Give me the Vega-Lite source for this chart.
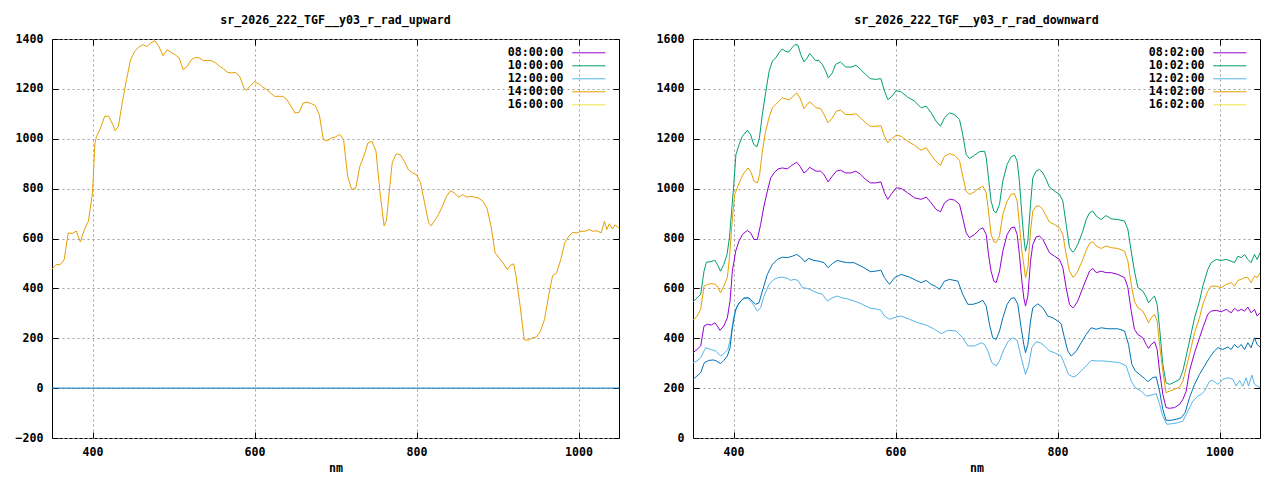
{
  "$schema": "https://vega.github.io/schema/vega-lite/v6.json",
  "background": "white",
  "padding": {"left": 4, "top": 14, "right": 0, "bottom": 0},
  "config": {
    "view": {"stroke": "#000000", "strokeWidth": 1},
    "font": "DejaVu Sans Mono",
    "axis": {
      "domain": false,
      "grid": true,
      "gridColor": "#a0a0a0",
      "gridDash": [2, 3],
      "gridWidth": 1,
      "tickColor": "#000000",
      "tickSize": -6,
      "tickWidth": 1,
      "labelPadding": 15,
      "format": "d",
      "labelFont": "DejaVu Sans Mono",
      "labelFontSize": 11.6,
      "labelFontWeight": "bold",
      "labelColor": "#000000",
      "titleFont": "DejaVu Sans Mono",
      "titleFontSize": 11.6,
      "titleFontWeight": "bold",
      "titleColor": "#000000"
    },
    "title": {
      "font": "DejaVu Sans Mono",
      "fontSize": 11.6,
      "fontWeight": "bold",
      "color": "#000000",
      "anchor": "middle",
      "baseline": "middle",
      "offset": 6
    },
    "legend": {
      "orient": "none",
      "legendX": 531,
      "legendY": 8,
      "padding": 0,
      "symbolType": "M-5,0H5",
      "symbolSize": 44,
      "symbolStrokeWidth": 1,
      "symbolOpacity": 1,
      "rowPadding": 0,
      "labelAlign": "right",
      "labelBaseline": "middle",
      "labelOffset": -31,
      "labelFont": "DejaVu Sans Mono",
      "labelFontSize": 11.6,
      "labelFontWeight": "bold",
      "labelColor": "#000000"
    }
  },
  "datasets": {
    "up": [
      {"s":"untitled","x":350,"y":0},{"s":"untitled","x":1050,"y":0},
      {"s":"14:00:00","x":350,"y":478},{"s":"14:00:00","x":355,"y":495},{"s":"14:00:00","x":360,"y":495},{"s":"14:00:00","x":365,"y":515},
      {"s":"14:00:00","x":370,"y":622},{"s":"14:00:00","x":375,"y":620},{"s":"14:00:00","x":380,"y":630},{"s":"14:00:00","x":385,"y":586},
      {"s":"14:00:00","x":390,"y":636},{"s":"14:00:00","x":395,"y":670},{"s":"14:00:00","x":400,"y":783},{"s":"14:00:00","x":403,"y":983},
      {"s":"14:00:00","x":405,"y":1010},{"s":"14:00:00","x":410,"y":1043},{"s":"14:00:00","x":415,"y":1090},{"s":"14:00:00","x":420,"y":1090},
      {"s":"14:00:00","x":425,"y":1057},{"s":"14:00:00","x":428,"y":1032},{"s":"14:00:00","x":432,"y":1050},{"s":"14:00:00","x":437,"y":1150},
      {"s":"14:00:00","x":442,"y":1237},{"s":"14:00:00","x":447,"y":1317},{"s":"14:00:00","x":452,"y":1350},{"s":"14:00:00","x":457,"y":1367},
      {"s":"14:00:00","x":462,"y":1377},{"s":"14:00:00","x":467,"y":1370},{"s":"14:00:00","x":472,"y":1384},{"s":"14:00:00","x":477,"y":1393},
      {"s":"14:00:00","x":482,"y":1370},{"s":"14:00:00","x":487,"y":1333},{"s":"14:00:00","x":492,"y":1357},{"s":"14:00:00","x":497,"y":1347},
      {"s":"14:00:00","x":502,"y":1337},{"s":"14:00:00","x":507,"y":1324},{"s":"14:00:00","x":512,"y":1277},{"s":"14:00:00","x":517,"y":1290},
      {"s":"14:00:00","x":522,"y":1317},{"s":"14:00:00","x":527,"y":1326},{"s":"14:00:00","x":532,"y":1324},{"s":"14:00:00","x":537,"y":1313},
      {"s":"14:00:00","x":542,"y":1314},{"s":"14:00:00","x":547,"y":1313},{"s":"14:00:00","x":552,"y":1304},{"s":"14:00:00","x":557,"y":1290},
      {"s":"14:00:00","x":562,"y":1280},{"s":"14:00:00","x":567,"y":1266},{"s":"14:00:00","x":572,"y":1264},{"s":"14:00:00","x":577,"y":1266},
      {"s":"14:00:00","x":582,"y":1248},{"s":"14:00:00","x":587,"y":1204},{"s":"14:00:00","x":590,"y":1194},{"s":"14:00:00","x":595,"y":1213},
      {"s":"14:00:00","x":600,"y":1228},{"s":"14:00:00","x":605,"y":1221},{"s":"14:00:00","x":610,"y":1208},{"s":"14:00:00","x":615,"y":1197},
      {"s":"14:00:00","x":620,"y":1183},{"s":"14:00:00","x":625,"y":1170},{"s":"14:00:00","x":630,"y":1170},{"s":"14:00:00","x":635,"y":1170},
      {"s":"14:00:00","x":640,"y":1157},{"s":"14:00:00","x":645,"y":1130},{"s":"14:00:00","x":650,"y":1103},{"s":"14:00:00","x":655,"y":1106},
      {"s":"14:00:00","x":660,"y":1143},{"s":"14:00:00","x":665,"y":1147},{"s":"14:00:00","x":670,"y":1141},{"s":"14:00:00","x":675,"y":1133},
      {"s":"14:00:00","x":680,"y":1097},{"s":"14:00:00","x":685,"y":996},{"s":"14:00:00","x":690,"y":992},{"s":"14:00:00","x":695,"y":1003},
      {"s":"14:00:00","x":700,"y":1007},{"s":"14:00:00","x":705,"y":1018},{"s":"14:00:00","x":710,"y":996},{"s":"14:00:00","x":715,"y":849},
      {"s":"14:00:00","x":720,"y":796},{"s":"14:00:00","x":725,"y":802},{"s":"14:00:00","x":730,"y":889},{"s":"14:00:00","x":735,"y":930},
      {"s":"14:00:00","x":740,"y":983},{"s":"14:00:00","x":745,"y":990},{"s":"14:00:00","x":750,"y":950},{"s":"14:00:00","x":755,"y":783},
      {"s":"14:00:00","x":760,"y":650},{"s":"14:00:00","x":763,"y":675},{"s":"14:00:00","x":767,"y":809},{"s":"14:00:00","x":770,"y":903},
      {"s":"14:00:00","x":775,"y":940},{"s":"14:00:00","x":780,"y":936},{"s":"14:00:00","x":785,"y":910},{"s":"14:00:00","x":790,"y":876},
      {"s":"14:00:00","x":795,"y":863},{"s":"14:00:00","x":800,"y":856},{"s":"14:00:00","x":805,"y":823},{"s":"14:00:00","x":810,"y":743},
      {"s":"14:00:00","x":815,"y":663},{"s":"14:00:00","x":818,"y":651},{"s":"14:00:00","x":822,"y":669},{"s":"14:00:00","x":827,"y":696},
      {"s":"14:00:00","x":832,"y":729},{"s":"14:00:00","x":837,"y":769},{"s":"14:00:00","x":842,"y":792},{"s":"14:00:00","x":847,"y":782},
      {"s":"14:00:00","x":852,"y":765},{"s":"14:00:00","x":857,"y":776},{"s":"14:00:00","x":862,"y":766},{"s":"14:00:00","x":867,"y":769},
      {"s":"14:00:00","x":872,"y":766},{"s":"14:00:00","x":877,"y":762},{"s":"14:00:00","x":882,"y":749},{"s":"14:00:00","x":887,"y":722},
      {"s":"14:00:00","x":892,"y":650},{"s":"14:00:00","x":897,"y":543},{"s":"14:00:00","x":902,"y":522},{"s":"14:00:00","x":907,"y":502},
      {"s":"14:00:00","x":912,"y":475},{"s":"14:00:00","x":917,"y":495},{"s":"14:00:00","x":920,"y":498},{"s":"14:00:00","x":923,"y":448},
      {"s":"14:00:00","x":928,"y":328},{"s":"14:00:00","x":933,"y":194},{"s":"14:00:00","x":938,"y":192},{"s":"14:00:00","x":943,"y":201},
      {"s":"14:00:00","x":948,"y":205},{"s":"14:00:00","x":953,"y":228},{"s":"14:00:00","x":958,"y":275},{"s":"14:00:00","x":963,"y":368},
      {"s":"14:00:00","x":968,"y":451},{"s":"14:00:00","x":973,"y":462},{"s":"14:00:00","x":978,"y":515},{"s":"14:00:00","x":983,"y":582},
      {"s":"14:00:00","x":988,"y":609},{"s":"14:00:00","x":993,"y":625},{"s":"14:00:00","x":998,"y":622},{"s":"14:00:00","x":1003,"y":629},
      {"s":"14:00:00","x":1008,"y":629},{"s":"14:00:00","x":1013,"y":636},{"s":"14:00:00","x":1018,"y":629},{"s":"14:00:00","x":1023,"y":631},
      {"s":"14:00:00","x":1028,"y":622},{"s":"14:00:00","x":1032,"y":669},{"s":"14:00:00","x":1035,"y":636},{"s":"14:00:00","x":1038,"y":659},
      {"s":"14:00:00","x":1042,"y":638},{"s":"14:00:00","x":1045,"y":655},{"s":"14:00:00","x":1050,"y":642}
    ],
    "down": [
      {"s":"08:02:00","x":350,"y":342},{"s":"08:02:00","x":355,"y":355},{"s":"08:02:00","x":359.5,"y":369},{"s":"08:02:00","x":363.6,"y":449},
      {"s":"08:02:00","x":367.7,"y":456},{"s":"08:02:00","x":372.6,"y":453},{"s":"08:02:00","x":377,"y":462},{"s":"08:02:00","x":380,"y":449},
      {"s":"08:02:00","x":383.3,"y":432},{"s":"08:02:00","x":388,"y":449},{"s":"08:02:00","x":392.4,"y":482},{"s":"08:02:00","x":395.7,"y":549},
      {"s":"08:02:00","x":398.6,"y":669},{"s":"08:02:00","x":402.7,"y":749},{"s":"08:02:00","x":406.8,"y":790},{"s":"08:02:00","x":411,"y":816},
      {"s":"08:02:00","x":417,"y":832},{"s":"08:02:00","x":421,"y":823},{"s":"08:02:00","x":425.3,"y":796},{"s":"08:02:00","x":429.4,"y":796},
      {"s":"08:02:00","x":433.5,"y":856},{"s":"08:02:00","x":437.6,"y":930},{"s":"08:02:00","x":441.8,"y":990},{"s":"08:02:00","x":445.9,"y":1043},
      {"s":"08:02:00","x":450,"y":1063},{"s":"08:02:00","x":455,"y":1079},{"s":"08:02:00","x":460.3,"y":1083},{"s":"08:02:00","x":466.5,"y":1079},
      {"s":"08:02:00","x":470.6,"y":1090},{"s":"08:02:00","x":474.7,"y":1099},{"s":"08:02:00","x":478,"y":1106},{"s":"08:02:00","x":482,"y":1090},
      {"s":"08:02:00","x":487,"y":1063},{"s":"08:02:00","x":491,"y":1073},{"s":"08:02:00","x":494,"y":1086},{"s":"08:02:00","x":498,"y":1077},
      {"s":"08:02:00","x":502,"y":1070},{"s":"08:02:00","x":507.6,"y":1070},{"s":"08:02:00","x":511.7,"y":1057},{"s":"08:02:00","x":516.7,"y":1027},
      {"s":"08:02:00","x":522,"y":1050},{"s":"08:02:00","x":527,"y":1070},{"s":"08:02:00","x":532,"y":1074},{"s":"08:02:00","x":538.5,"y":1063},
      {"s":"08:02:00","x":545,"y":1063},{"s":"08:02:00","x":551,"y":1070},{"s":"08:02:00","x":557,"y":1057},{"s":"08:02:00","x":563,"y":1037},
      {"s":"08:02:00","x":569,"y":1023},{"s":"08:02:00","x":575.5,"y":1023},{"s":"08:02:00","x":582,"y":1027},{"s":"08:02:00","x":586.4,"y":983},
      {"s":"08:02:00","x":590.5,"y":957},{"s":"08:02:00","x":594.6,"y":977},{"s":"08:02:00","x":600.8,"y":1003},{"s":"08:02:00","x":607,"y":1001},
      {"s":"08:02:00","x":615,"y":983},{"s":"08:02:00","x":623.5,"y":963},{"s":"08:02:00","x":631.7,"y":957},{"s":"08:02:00","x":637.9,"y":966},
      {"s":"08:02:00","x":644,"y":943},{"s":"08:02:00","x":650,"y":917},{"s":"08:02:00","x":655.5,"y":907},{"s":"08:02:00","x":660.5,"y":943},
      {"s":"08:02:00","x":666.7,"y":958},{"s":"08:02:00","x":672.8,"y":954},{"s":"08:02:00","x":679,"y":937},{"s":"08:02:00","x":683,"y":883},
      {"s":"08:02:00","x":687.2,"y":823},{"s":"08:02:00","x":691.3,"y":803},{"s":"08:02:00","x":697.5,"y":816},{"s":"08:02:00","x":703.7,"y":836},
      {"s":"08:02:00","x":707.8,"y":843},{"s":"08:02:00","x":712,"y":816},{"s":"08:02:00","x":714.8,"y":736},{"s":"08:02:00","x":718,"y":669},
      {"s":"08:02:00","x":721.4,"y":629},{"s":"08:02:00","x":724.3,"y":623},{"s":"08:02:00","x":728.4,"y":669},{"s":"08:02:00","x":732.5,"y":749},
      {"s":"08:02:00","x":737.8,"y":816},{"s":"08:02:00","x":742.8,"y":843},{"s":"08:02:00","x":746.9,"y":846},{"s":"08:02:00","x":750.2,"y":816},
      {"s":"08:02:00","x":753,"y":736},{"s":"08:02:00","x":756,"y":629},{"s":"08:02:00","x":758.4,"y":562},{"s":"08:02:00","x":760.5,"y":529},
      {"s":"08:02:00","x":763.4,"y":569},{"s":"08:02:00","x":766.7,"y":709},{"s":"08:02:00","x":769.5,"y":776},{"s":"08:02:00","x":773.6,"y":806},
      {"s":"08:02:00","x":777.8,"y":810},{"s":"08:02:00","x":781.9,"y":796},{"s":"08:02:00","x":786,"y":770},{"s":"08:02:00","x":790,"y":743},
      {"s":"08:02:00","x":796.3,"y":729},{"s":"08:02:00","x":802.5,"y":716},{"s":"08:02:00","x":806.6,"y":683},{"s":"08:02:00","x":810.7,"y":603},
      {"s":"08:02:00","x":814.8,"y":536},{"s":"08:02:00","x":819,"y":522},{"s":"08:02:00","x":821,"y":529},{"s":"08:02:00","x":825,"y":549},
      {"s":"08:02:00","x":831.3,"y":603},{"s":"08:02:00","x":835.4,"y":636},{"s":"08:02:00","x":839.5,"y":669},{"s":"08:02:00","x":843.6,"y":680},
      {"s":"08:02:00","x":847.8,"y":663},{"s":"08:02:00","x":854,"y":669},{"s":"08:02:00","x":860,"y":663},{"s":"08:02:00","x":866.3,"y":663},
      {"s":"08:02:00","x":874.5,"y":656},{"s":"08:02:00","x":882.7,"y":643},{"s":"08:02:00","x":886.9,"y":603},{"s":"08:02:00","x":891,"y":509},
      {"s":"08:02:00","x":895,"y":436},{"s":"08:02:00","x":899.2,"y":415},{"s":"08:02:00","x":905.4,"y":402},{"s":"08:02:00","x":909.5,"y":375},
      {"s":"08:02:00","x":912.4,"y":359},{"s":"08:02:00","x":915.7,"y":375},{"s":"08:02:00","x":919.8,"y":386},{"s":"08:02:00","x":923,"y":355},
      {"s":"08:02:00","x":926,"y":269},{"s":"08:02:00","x":930,"y":175},{"s":"08:02:00","x":934,"y":122},{"s":"08:02:00","x":938.3,"y":119},
      {"s":"08:02:00","x":944.5,"y":122},{"s":"08:02:00","x":950.6,"y":135},{"s":"08:02:00","x":954.8,"y":155},{"s":"08:02:00","x":958.9,"y":188},
      {"s":"08:02:00","x":963,"y":269},{"s":"08:02:00","x":969.2,"y":342},{"s":"08:02:00","x":975.3,"y":402},{"s":"08:02:00","x":979.4,"y":442},
      {"s":"08:02:00","x":985.6,"y":496},{"s":"08:02:00","x":989.7,"y":509},{"s":"08:02:00","x":996,"y":512},{"s":"08:02:00","x":1002,"y":506},
      {"s":"08:02:00","x":1008.3,"y":516},{"s":"08:02:00","x":1014.4,"y":502},{"s":"08:02:00","x":1018.5,"y":520},{"s":"08:02:00","x":1022.7,"y":509},
      {"s":"08:02:00","x":1026.8,"y":516},{"s":"08:02:00","x":1030.9,"y":509},{"s":"08:02:00","x":1035,"y":525},{"s":"08:02:00","x":1039,"y":502},
      {"s":"08:02:00","x":1043.2,"y":516},{"s":"08:02:00","x":1046.5,"y":489},{"s":"08:02:00","x":1050,"y":502},

      {"s":"10:02:00","x":350,"y":546},{"s":"10:02:00","x":355,"y":562},{"s":"10:02:00","x":359.5,"y":576},{"s":"10:02:00","x":363.6,"y":669},
      {"s":"10:02:00","x":366.5,"y":705},{"s":"10:02:00","x":372,"y":707},{"s":"10:02:00","x":377,"y":713},{"s":"10:02:00","x":380,"y":696},
      {"s":"10:02:00","x":384,"y":669},{"s":"10:02:00","x":388,"y":696},{"s":"10:02:00","x":392,"y":736},{"s":"10:02:00","x":395,"y":803},
      {"s":"10:02:00","x":398,"y":923},{"s":"10:02:00","x":400,"y":1003},{"s":"10:02:00","x":403,"y":1137},{"s":"10:02:00","x":407,"y":1177},
      {"s":"10:02:00","x":411,"y":1210},{"s":"10:02:00","x":417,"y":1234},{"s":"10:02:00","x":421,"y":1217},{"s":"10:02:00","x":425,"y":1177},
      {"s":"10:02:00","x":429,"y":1168},{"s":"10:02:00","x":432,"y":1204},{"s":"10:02:00","x":435.6,"y":1297},{"s":"10:02:00","x":440,"y":1391},
      {"s":"10:02:00","x":444,"y":1471},{"s":"10:02:00","x":448,"y":1511},{"s":"10:02:00","x":452,"y":1524},{"s":"10:02:00","x":456,"y":1544},
      {"s":"10:02:00","x":460,"y":1560},{"s":"10:02:00","x":464,"y":1551},{"s":"10:02:00","x":468,"y":1547},{"s":"10:02:00","x":472,"y":1564},
      {"s":"10:02:00","x":476,"y":1578},{"s":"10:02:00","x":479.6,"y":1575},{"s":"10:02:00","x":483,"y":1538},{"s":"10:02:00","x":487,"y":1508},
      {"s":"10:02:00","x":491,"y":1524},{"s":"10:02:00","x":494,"y":1542},{"s":"10:02:00","x":497,"y":1531},{"s":"10:02:00","x":501,"y":1514},
      {"s":"10:02:00","x":505.5,"y":1514},{"s":"10:02:00","x":509.7,"y":1498},{"s":"10:02:00","x":513.8,"y":1471},{"s":"10:02:00","x":517,"y":1444},
      {"s":"10:02:00","x":522,"y":1464},{"s":"10:02:00","x":526,"y":1498},{"s":"10:02:00","x":532,"y":1508},{"s":"10:02:00","x":538.5,"y":1488},
      {"s":"10:02:00","x":545,"y":1487},{"s":"10:02:00","x":551,"y":1495},{"s":"10:02:00","x":557,"y":1478},{"s":"10:02:00","x":563,"y":1458},
      {"s":"10:02:00","x":569,"y":1441},{"s":"10:02:00","x":575.5,"y":1438},{"s":"10:02:00","x":582,"y":1441},{"s":"10:02:00","x":586.4,"y":1391},
      {"s":"10:02:00","x":590.5,"y":1357},{"s":"10:02:00","x":594.6,"y":1367},{"s":"10:02:00","x":600.8,"y":1393},{"s":"10:02:00","x":607,"y":1388},
      {"s":"10:02:00","x":615,"y":1367},{"s":"10:02:00","x":623.5,"y":1351},{"s":"10:02:00","x":631.7,"y":1324},{"s":"10:02:00","x":637.9,"y":1331},
      {"s":"10:02:00","x":644,"y":1304},{"s":"10:02:00","x":650,"y":1271},{"s":"10:02:00","x":655.5,"y":1250},{"s":"10:02:00","x":660.5,"y":1284},
      {"s":"10:02:00","x":666.7,"y":1304},{"s":"10:02:00","x":672.8,"y":1297},{"s":"10:02:00","x":679,"y":1277},{"s":"10:02:00","x":683,"y":1217},
      {"s":"10:02:00","x":687.2,"y":1137},{"s":"10:02:00","x":691.3,"y":1120},{"s":"10:02:00","x":697.5,"y":1134},{"s":"10:02:00","x":703.7,"y":1148},
      {"s":"10:02:00","x":709.9,"y":1150},{"s":"10:02:00","x":712,"y":1124},{"s":"10:02:00","x":714.8,"y":1043},{"s":"10:02:00","x":718,"y":950},
      {"s":"10:02:00","x":721.4,"y":910},{"s":"10:02:00","x":724.3,"y":903},{"s":"10:02:00","x":728.4,"y":937},{"s":"10:02:00","x":732.5,"y":1030},
      {"s":"10:02:00","x":737.8,"y":1097},{"s":"10:02:00","x":742.8,"y":1128},{"s":"10:02:00","x":746.9,"y":1134},{"s":"10:02:00","x":750.2,"y":1110},
      {"s":"10:02:00","x":753,"y":1030},{"s":"10:02:00","x":756,"y":896},{"s":"10:02:00","x":758.4,"y":803},{"s":"10:02:00","x":760.5,"y":749},
      {"s":"10:02:00","x":763.4,"y":790},{"s":"10:02:00","x":766.7,"y":937},{"s":"10:02:00","x":769.5,"y":1043},{"s":"10:02:00","x":773.6,"y":1070},
      {"s":"10:02:00","x":777.8,"y":1077},{"s":"10:02:00","x":781.9,"y":1063},{"s":"10:02:00","x":786,"y":1037},{"s":"10:02:00","x":790,"y":1006},
      {"s":"10:02:00","x":796.3,"y":990},{"s":"10:02:00","x":802.5,"y":977},{"s":"10:02:00","x":806.6,"y":950},{"s":"10:02:00","x":810.7,"y":856},
      {"s":"10:02:00","x":814.8,"y":763},{"s":"10:02:00","x":819,"y":745},{"s":"10:02:00","x":821,"y":752},{"s":"10:02:00","x":825,"y":776},
      {"s":"10:02:00","x":831.3,"y":830},{"s":"10:02:00","x":835.4,"y":876},{"s":"10:02:00","x":839.5,"y":903},{"s":"10:02:00","x":843.6,"y":910},
      {"s":"10:02:00","x":847.8,"y":890},{"s":"10:02:00","x":854,"y":876},{"s":"10:02:00","x":860,"y":892},{"s":"10:02:00","x":866.3,"y":879},
      {"s":"10:02:00","x":874.5,"y":876},{"s":"10:02:00","x":882.7,"y":870},{"s":"10:02:00","x":886.9,"y":836},{"s":"10:02:00","x":891,"y":749},
      {"s":"10:02:00","x":895,"y":669},{"s":"10:02:00","x":899.2,"y":603},{"s":"10:02:00","x":905.4,"y":589},{"s":"10:02:00","x":909.5,"y":565},
      {"s":"10:02:00","x":912.4,"y":542},{"s":"10:02:00","x":915.7,"y":556},{"s":"10:02:00","x":919.8,"y":569},{"s":"10:02:00","x":923,"y":536},
      {"s":"10:02:00","x":926,"y":442},{"s":"10:02:00","x":930,"y":295},{"s":"10:02:00","x":934,"y":222},{"s":"10:02:00","x":938.3,"y":215},
      {"s":"10:02:00","x":944.5,"y":224},{"s":"10:02:00","x":950.6,"y":235},{"s":"10:02:00","x":954.8,"y":269},{"s":"10:02:00","x":958.9,"y":329},
      {"s":"10:02:00","x":963,"y":389},{"s":"10:02:00","x":969.2,"y":482},{"s":"10:02:00","x":975.3,"y":549},{"s":"10:02:00","x":979.4,"y":609},
      {"s":"10:02:00","x":985.6,"y":676},{"s":"10:02:00","x":989.7,"y":703},{"s":"10:02:00","x":996,"y":716},{"s":"10:02:00","x":1002,"y":712},
      {"s":"10:02:00","x":1008.3,"y":716},{"s":"10:02:00","x":1014.4,"y":709},{"s":"10:02:00","x":1018.5,"y":703},{"s":"10:02:00","x":1022.7,"y":729},
      {"s":"10:02:00","x":1026.8,"y":723},{"s":"10:02:00","x":1030.9,"y":736},{"s":"10:02:00","x":1035,"y":716},{"s":"10:02:00","x":1039,"y":703},
      {"s":"10:02:00","x":1043.2,"y":736},{"s":"10:02:00","x":1046.5,"y":716},{"s":"10:02:00","x":1050,"y":743},

      {"s":"12:02:00","x":350,"y":302},{"s":"12:02:00","x":355,"y":309},{"s":"12:02:00","x":359.5,"y":322},{"s":"12:02:00","x":365.6,"y":362},
      {"s":"12:02:00","x":372,"y":355},{"s":"12:02:00","x":378,"y":349},{"s":"12:02:00","x":384,"y":329},{"s":"12:02:00","x":388,"y":338},
      {"s":"12:02:00","x":393,"y":355},{"s":"12:02:00","x":396.5,"y":402},{"s":"12:02:00","x":400,"y":482},{"s":"12:02:00","x":404.7,"y":529},
      {"s":"12:02:00","x":411,"y":556},{"s":"12:02:00","x":417,"y":562},{"s":"12:02:00","x":423,"y":542},{"s":"12:02:00","x":429.4,"y":509},
      {"s":"12:02:00","x":433.5,"y":522},{"s":"12:02:00","x":437.6,"y":569},{"s":"12:02:00","x":443.8,"y":616},{"s":"12:02:00","x":450,"y":636},
      {"s":"12:02:00","x":455,"y":643},{"s":"12:02:00","x":460.3,"y":645},{"s":"12:02:00","x":466.5,"y":640},{"s":"12:02:00","x":470.6,"y":632},
      {"s":"12:02:00","x":474.7,"y":636},{"s":"12:02:00","x":479.6,"y":632},{"s":"12:02:00","x":485,"y":603},{"s":"12:02:00","x":491,"y":600},
      {"s":"12:02:00","x":497,"y":592},{"s":"12:02:00","x":503.5,"y":582},{"s":"12:02:00","x":509.7,"y":576},{"s":"12:02:00","x":516,"y":549},
      {"s":"12:02:00","x":522,"y":562},{"s":"12:02:00","x":528,"y":569},{"s":"12:02:00","x":534,"y":562},{"s":"12:02:00","x":540.6,"y":558},
      {"s":"12:02:00","x":548.9,"y":549},{"s":"12:02:00","x":555,"y":542},{"s":"12:02:00","x":561,"y":533},{"s":"12:02:00","x":569,"y":520},
      {"s":"12:02:00","x":575.5,"y":518},{"s":"12:02:00","x":582,"y":512},{"s":"12:02:00","x":586.4,"y":489},{"s":"12:02:00","x":592.6,"y":476},
      {"s":"12:02:00","x":600.8,"y":485},{"s":"12:02:00","x":607,"y":489},{"s":"12:02:00","x":617.3,"y":476},{"s":"12:02:00","x":627.6,"y":462},
      {"s":"12:02:00","x":637.9,"y":453},{"s":"12:02:00","x":648.2,"y":436},{"s":"12:02:00","x":656.4,"y":418},{"s":"12:02:00","x":664.6,"y":432},
      {"s":"12:02:00","x":674.9,"y":429},{"s":"12:02:00","x":683,"y":402},{"s":"12:02:00","x":689.3,"y":369},{"s":"12:02:00","x":697.5,"y":369},
      {"s":"12:02:00","x":705.8,"y":382},{"s":"12:02:00","x":709.9,"y":375},{"s":"12:02:00","x":714,"y":349},{"s":"12:02:00","x":719,"y":302},
      {"s":"12:02:00","x":724.3,"y":289},{"s":"12:02:00","x":728.4,"y":309},{"s":"12:02:00","x":733.7,"y":355},{"s":"12:02:00","x":739.5,"y":389},
      {"s":"12:02:00","x":744.8,"y":402},{"s":"12:02:00","x":750.2,"y":392},{"s":"12:02:00","x":754.3,"y":335},{"s":"12:02:00","x":758.4,"y":282},
      {"s":"12:02:00","x":760.5,"y":255},{"s":"12:02:00","x":764.2,"y":289},{"s":"12:02:00","x":768.3,"y":362},{"s":"12:02:00","x":773.6,"y":386},
      {"s":"12:02:00","x":779,"y":382},{"s":"12:02:00","x":784,"y":369},{"s":"12:02:00","x":790.1,"y":349},{"s":"12:02:00","x":796.3,"y":342},
      {"s":"12:02:00","x":804.5,"y":329},{"s":"12:02:00","x":809.5,"y":289},{"s":"12:02:00","x":813.6,"y":255},{"s":"12:02:00","x":819,"y":245},
      {"s":"12:02:00","x":823,"y":249},{"s":"12:02:00","x":829.2,"y":269},{"s":"12:02:00","x":835.4,"y":289},{"s":"12:02:00","x":841.6,"y":311},
      {"s":"12:02:00","x":847.8,"y":309},{"s":"12:02:00","x":856,"y":309},{"s":"12:02:00","x":866.3,"y":306},{"s":"12:02:00","x":876.6,"y":302},
      {"s":"12:02:00","x":884.8,"y":289},{"s":"12:02:00","x":891,"y":228},{"s":"12:02:00","x":896,"y":202},{"s":"12:02:00","x":903.3,"y":188},
      {"s":"12:02:00","x":909.5,"y":168},{"s":"12:02:00","x":915.7,"y":172},{"s":"12:02:00","x":921.8,"y":178},{"s":"12:02:00","x":926,"y":135},
      {"s":"12:02:00","x":930,"y":88},{"s":"12:02:00","x":935,"y":55},{"s":"12:02:00","x":940.4,"y":57},{"s":"12:02:00","x":948.6,"y":61},
      {"s":"12:02:00","x":954.8,"y":68},{"s":"12:02:00","x":961,"y":108},{"s":"12:02:00","x":967.1,"y":148},{"s":"12:02:00","x":973.3,"y":168},
      {"s":"12:02:00","x":977.4,"y":175},{"s":"12:02:00","x":981.5,"y":188},{"s":"12:02:00","x":987.7,"y":228},{"s":"12:02:00","x":991.8,"y":231},
      {"s":"12:02:00","x":998,"y":215},{"s":"12:02:00","x":1004,"y":235},{"s":"12:02:00","x":1010.3,"y":242},{"s":"12:02:00","x":1016.5,"y":235},
      {"s":"12:02:00","x":1020.6,"y":208},{"s":"12:02:00","x":1024.7,"y":231},{"s":"12:02:00","x":1028.8,"y":208},{"s":"12:02:00","x":1033,"y":242},
      {"s":"12:02:00","x":1035.8,"y":208},{"s":"12:02:00","x":1040,"y":252},{"s":"12:02:00","x":1043.2,"y":215},{"s":"12:02:00","x":1046.5,"y":208},
      {"s":"12:02:00","x":1050,"y":202},

      {"s":"14:02:00","x":350,"y":472},{"s":"14:02:00","x":355,"y":489},{"s":"14:02:00","x":359.5,"y":516},{"s":"14:02:00","x":363.6,"y":609},
      {"s":"14:02:00","x":367.7,"y":616},{"s":"14:02:00","x":372.6,"y":619},{"s":"14:02:00","x":378,"y":616},{"s":"14:02:00","x":380.9,"y":603},
      {"s":"14:02:00","x":384,"y":582},{"s":"14:02:00","x":388,"y":609},{"s":"14:02:00","x":392.4,"y":643},{"s":"14:02:00","x":395,"y":723},
      {"s":"14:02:00","x":398,"y":856},{"s":"14:02:00","x":401.4,"y":977},{"s":"14:02:00","x":404.7,"y":1003},{"s":"14:02:00","x":408.8,"y":1037},
      {"s":"14:02:00","x":413,"y":1063},{"s":"14:02:00","x":418,"y":1083},{"s":"14:02:00","x":422,"y":1063},{"s":"14:02:00","x":425.3,"y":1030},
      {"s":"14:02:00","x":429.4,"y":1023},{"s":"14:02:00","x":432.3,"y":1057},{"s":"14:02:00","x":435.6,"y":1150},{"s":"14:02:00","x":439.7,"y":1230},
      {"s":"14:02:00","x":443.8,"y":1284},{"s":"14:02:00","x":448,"y":1324},{"s":"14:02:00","x":452,"y":1337},{"s":"14:02:00","x":456.2,"y":1351},
      {"s":"14:02:00","x":460.3,"y":1364},{"s":"14:02:00","x":464.4,"y":1360},{"s":"14:02:00","x":468.5,"y":1356},{"s":"14:02:00","x":472.6,"y":1367},
      {"s":"14:02:00","x":478,"y":1384},{"s":"14:02:00","x":482,"y":1364},{"s":"14:02:00","x":487,"y":1321},{"s":"14:02:00","x":491,"y":1337},
      {"s":"14:02:00","x":494,"y":1348},{"s":"14:02:00","x":498,"y":1337},{"s":"14:02:00","x":502,"y":1324},{"s":"14:02:00","x":507.6,"y":1321},
      {"s":"14:02:00","x":511.7,"y":1297},{"s":"14:02:00","x":516.7,"y":1264},{"s":"14:02:00","x":522,"y":1284},{"s":"14:02:00","x":527,"y":1311},
      {"s":"14:02:00","x":532,"y":1315},{"s":"14:02:00","x":538.5,"y":1297},{"s":"14:02:00","x":545,"y":1297},{"s":"14:02:00","x":551,"y":1300},
      {"s":"14:02:00","x":557,"y":1284},{"s":"14:02:00","x":563,"y":1264},{"s":"14:02:00","x":569,"y":1250},{"s":"14:02:00","x":575.5,"y":1250},
      {"s":"14:02:00","x":582,"y":1252},{"s":"14:02:00","x":586.4,"y":1210},{"s":"14:02:00","x":590.5,"y":1184},{"s":"14:02:00","x":594.6,"y":1197},
      {"s":"14:02:00","x":600.8,"y":1214},{"s":"14:02:00","x":607,"y":1210},{"s":"14:02:00","x":615,"y":1190},{"s":"14:02:00","x":623.5,"y":1174},
      {"s":"14:02:00","x":631.7,"y":1154},{"s":"14:02:00","x":637.9,"y":1164},{"s":"14:02:00","x":644,"y":1134},{"s":"14:02:00","x":650,"y":1110},
      {"s":"14:02:00","x":655.5,"y":1093},{"s":"14:02:00","x":660.5,"y":1130},{"s":"14:02:00","x":666.7,"y":1140},{"s":"14:02:00","x":672.8,"y":1134},
      {"s":"14:02:00","x":679,"y":1113},{"s":"14:02:00","x":683,"y":1050},{"s":"14:02:00","x":687.2,"y":990},{"s":"14:02:00","x":691.3,"y":977},
      {"s":"14:02:00","x":697.5,"y":987},{"s":"14:02:00","x":703.7,"y":1003},{"s":"14:02:00","x":707.8,"y":1010},{"s":"14:02:00","x":712,"y":983},
      {"s":"14:02:00","x":714.8,"y":910},{"s":"14:02:00","x":718,"y":816},{"s":"14:02:00","x":721.4,"y":787},{"s":"14:02:00","x":724.3,"y":783},
      {"s":"14:02:00","x":728.4,"y":810},{"s":"14:02:00","x":732.5,"y":896},{"s":"14:02:00","x":737.8,"y":950},{"s":"14:02:00","x":742.8,"y":977},
      {"s":"14:02:00","x":746.9,"y":980},{"s":"14:02:00","x":750.2,"y":950},{"s":"14:02:00","x":753,"y":856},{"s":"14:02:00","x":756,"y":749},
      {"s":"14:02:00","x":758.4,"y":696},{"s":"14:02:00","x":760.5,"y":643},{"s":"14:02:00","x":763.4,"y":683},{"s":"14:02:00","x":766.7,"y":830},
      {"s":"14:02:00","x":769.5,"y":910},{"s":"14:02:00","x":773.6,"y":930},{"s":"14:02:00","x":777.8,"y":930},{"s":"14:02:00","x":781.9,"y":916},
      {"s":"14:02:00","x":786,"y":890},{"s":"14:02:00","x":790,"y":866},{"s":"14:02:00","x":796.3,"y":856},{"s":"14:02:00","x":802.5,"y":843},
      {"s":"14:02:00","x":806.6,"y":816},{"s":"14:02:00","x":810.7,"y":736},{"s":"14:02:00","x":814.8,"y":669},{"s":"14:02:00","x":819,"y":645},
      {"s":"14:02:00","x":821,"y":649},{"s":"14:02:00","x":825,"y":669},{"s":"14:02:00","x":831.3,"y":716},{"s":"14:02:00","x":835.4,"y":752},
      {"s":"14:02:00","x":839.5,"y":780},{"s":"14:02:00","x":843.6,"y":787},{"s":"14:02:00","x":847.8,"y":770},{"s":"14:02:00","x":854,"y":760},
      {"s":"14:02:00","x":860,"y":770},{"s":"14:02:00","x":866.3,"y":763},{"s":"14:02:00","x":874.5,"y":760},{"s":"14:02:00","x":882.7,"y":749},
      {"s":"14:02:00","x":886.9,"y":709},{"s":"14:02:00","x":891,"y":616},{"s":"14:02:00","x":895,"y":549},{"s":"14:02:00","x":899.2,"y":522},
      {"s":"14:02:00","x":905.4,"y":509},{"s":"14:02:00","x":909.5,"y":482},{"s":"14:02:00","x":912.4,"y":462},{"s":"14:02:00","x":915.7,"y":482},
      {"s":"14:02:00","x":919.8,"y":496},{"s":"14:02:00","x":923,"y":469},{"s":"14:02:00","x":926,"y":375},{"s":"14:02:00","x":930,"y":269},
      {"s":"14:02:00","x":934,"y":182},{"s":"14:02:00","x":938.3,"y":188},{"s":"14:02:00","x":944.5,"y":195},{"s":"14:02:00","x":950.6,"y":204},
      {"s":"14:02:00","x":954.8,"y":228},{"s":"14:02:00","x":958.9,"y":282},{"s":"14:02:00","x":963,"y":335},{"s":"14:02:00","x":969.2,"y":422},
      {"s":"14:02:00","x":975.3,"y":482},{"s":"14:02:00","x":979.4,"y":536},{"s":"14:02:00","x":985.6,"y":589},{"s":"14:02:00","x":989.7,"y":609},
      {"s":"14:02:00","x":996,"y":609},{"s":"14:02:00","x":1002,"y":603},{"s":"14:02:00","x":1008.3,"y":616},{"s":"14:02:00","x":1014.4,"y":623},
      {"s":"14:02:00","x":1018.5,"y":609},{"s":"14:02:00","x":1022.7,"y":632},{"s":"14:02:00","x":1026.8,"y":636},{"s":"14:02:00","x":1030.9,"y":643},
      {"s":"14:02:00","x":1035,"y":643},{"s":"14:02:00","x":1039,"y":623},{"s":"14:02:00","x":1043.2,"y":649},{"s":"14:02:00","x":1046.5,"y":643},
      {"s":"14:02:00","x":1050,"y":663},

      {"s":"untitled","x":350,"y":235},{"s":"untitled","x":355,"y":249},{"s":"untitled","x":359.5,"y":262},{"s":"untitled","x":364,"y":302},
      {"s":"untitled","x":369.5,"y":311},{"s":"untitled","x":375,"y":313},{"s":"untitled","x":379,"y":309},{"s":"untitled","x":384,"y":298},
      {"s":"untitled","x":388,"y":311},{"s":"untitled","x":392.4,"y":329},{"s":"untitled","x":395.7,"y":362},{"s":"untitled","x":398.6,"y":442},
      {"s":"untitled","x":402.7,"y":516},{"s":"untitled","x":406.8,"y":542},{"s":"untitled","x":413,"y":562},{"s":"untitled","x":419,"y":562},
      {"s":"untitled","x":423,"y":549},{"s":"untitled","x":427.4,"y":536},{"s":"untitled","x":431.5,"y":542},{"s":"untitled","x":435.6,"y":589},
      {"s":"untitled","x":441.8,"y":656},{"s":"untitled","x":448,"y":696},{"s":"untitled","x":454,"y":716},{"s":"untitled","x":460.3,"y":725},
      {"s":"untitled","x":466.5,"y":723},{"s":"untitled","x":472.6,"y":729},{"s":"untitled","x":478,"y":736},{"s":"untitled","x":483,"y":725},
      {"s":"untitled","x":488,"y":707},{"s":"untitled","x":493,"y":720},{"s":"untitled","x":499.4,"y":712},{"s":"untitled","x":505.5,"y":709},
      {"s":"untitled","x":511.7,"y":703},{"s":"untitled","x":516.7,"y":683},{"s":"untitled","x":522,"y":699},{"s":"untitled","x":528,"y":712},
      {"s":"untitled","x":534,"y":707},{"s":"untitled","x":540.6,"y":703},{"s":"untitled","x":548.9,"y":703},{"s":"untitled","x":555,"y":693},
      {"s":"untitled","x":561,"y":683},{"s":"untitled","x":569,"y":667},{"s":"untitled","x":575.5,"y":669},{"s":"untitled","x":582,"y":673},
      {"s":"untitled","x":586.4,"y":643},{"s":"untitled","x":592.6,"y":616},{"s":"untitled","x":598.8,"y":643},{"s":"untitled","x":607,"y":656},
      {"s":"untitled","x":617.3,"y":645},{"s":"untitled","x":625.5,"y":632},{"s":"untitled","x":631.7,"y":623},{"s":"untitled","x":637.9,"y":632},
      {"s":"untitled","x":644,"y":616},{"s":"untitled","x":649,"y":609},{"s":"untitled","x":654.3,"y":596},{"s":"untitled","x":660.5,"y":629},
      {"s":"untitled","x":666.7,"y":636},{"s":"untitled","x":677,"y":629},{"s":"untitled","x":683,"y":576},{"s":"untitled","x":689.3,"y":536},
      {"s":"untitled","x":695.5,"y":536},{"s":"untitled","x":701.6,"y":542},{"s":"untitled","x":707.8,"y":552},{"s":"untitled","x":712,"y":529},
      {"s":"untitled","x":716,"y":456},{"s":"untitled","x":720,"y":402},{"s":"untitled","x":724.3,"y":395},{"s":"untitled","x":728.4,"y":429},
      {"s":"untitled","x":732.5,"y":482},{"s":"untitled","x":737.8,"y":536},{"s":"untitled","x":742.8,"y":560},{"s":"untitled","x":746.9,"y":562},
      {"s":"untitled","x":751,"y":536},{"s":"untitled","x":755.1,"y":442},{"s":"untitled","x":758.4,"y":375},{"s":"untitled","x":760.5,"y":342},
      {"s":"untitled","x":763.4,"y":375},{"s":"untitled","x":766.7,"y":469},{"s":"untitled","x":769.5,"y":522},{"s":"untitled","x":775.7,"y":538},
      {"s":"untitled","x":781.9,"y":522},{"s":"untitled","x":788,"y":489},{"s":"untitled","x":794.2,"y":482},{"s":"untitled","x":800.4,"y":469},
      {"s":"untitled","x":804.5,"y":458},{"s":"untitled","x":808.6,"y":402},{"s":"untitled","x":812.7,"y":349},{"s":"untitled","x":816.9,"y":329},
      {"s":"untitled","x":823,"y":347},{"s":"untitled","x":829.2,"y":382},{"s":"untitled","x":835.4,"y":415},{"s":"untitled","x":841.6,"y":442},
      {"s":"untitled","x":847.8,"y":436},{"s":"untitled","x":854,"y":442},{"s":"untitled","x":862.2,"y":438},{"s":"untitled","x":874.5,"y":438},
      {"s":"untitled","x":882.7,"y":429},{"s":"untitled","x":887.7,"y":375},{"s":"untitled","x":891.8,"y":295},{"s":"untitled","x":896,"y":269},
      {"s":"untitled","x":901.3,"y":255},{"s":"untitled","x":907.4,"y":239},{"s":"untitled","x":911.5,"y":226},{"s":"untitled","x":917.7,"y":242},
      {"s":"untitled","x":921.8,"y":245},{"s":"untitled","x":926,"y":188},{"s":"untitled","x":930,"y":115},{"s":"untitled","x":934,"y":71},
      {"s":"untitled","x":940.4,"y":71},{"s":"untitled","x":946.5,"y":75},{"s":"untitled","x":952.7,"y":81},{"s":"untitled","x":957.6,"y":102},
      {"s":"untitled","x":963,"y":162},{"s":"untitled","x":969.2,"y":215},{"s":"untitled","x":975.3,"y":255},{"s":"untitled","x":981.5,"y":289},
      {"s":"untitled","x":987.7,"y":322},{"s":"untitled","x":993.8,"y":349},{"s":"untitled","x":998,"y":362},{"s":"untitled","x":1004,"y":355},
      {"s":"untitled","x":1010.3,"y":365},{"s":"untitled","x":1014.4,"y":355},{"s":"untitled","x":1018.5,"y":375},{"s":"untitled","x":1022.7,"y":362},
      {"s":"untitled","x":1026.8,"y":375},{"s":"untitled","x":1030.9,"y":355},{"s":"untitled","x":1035,"y":382},{"s":"untitled","x":1039,"y":362},
      {"s":"untitled","x":1043.2,"y":402},{"s":"untitled","x":1046.5,"y":375},{"s":"untitled","x":1050,"y":365}
    ]
  },
  "spacing": 25,
  "resolve": {"scale": {"color": "independent"}, "legend": {"color": "independent"}},
  "hconcat": [
    {
      "title": "sr_2026_222_TGF__y03_r_rad_upward",
      "width": 567,
      "height": 399,
      "data": {"name": "up"},
      "layer": [
        {
          "mark": {"type": "line", "strokeWidth": 1, "clip": true},
          "encoding": {
            "x": {"field": "x", "type": "quantitative",
                  "scale": {"domain": [350, 1050], "nice": false, "zero": false},
                  "axis": {"title": "nm", "values": [400, 600, 800, 1000], "labelPadding": 14, "titlePadding": 5}},
            "y": {"field": "y", "type": "quantitative",
                  "scale": {"domain": [-200, 1400], "nice": false},
                  "axis": {"title": null, "values": [-200, 0, 200, 400, 600, 800, 1000, 1200, 1400], "minExtent": 47, "maxExtent": 47}},
            "color": {"field": "s", "type": "nominal",
                      "scale": {"domain": ["08:00:00", "10:00:00", "12:00:00", "14:00:00", "16:00:00", "untitled"],
                                "range": ["#9400d3", "#009e73", "#56b4e9", "#e69f00", "#f0e442", "#0072b2"]},
                      "legend": {"title": null, "values": ["08:00:00", "10:00:00", "12:00:00", "14:00:00", "16:00:00"]}}
          }
        },
        {
          "mark": {"type": "rule", "strokeWidth": 0},
          "encoding": {
            "x": {"field": "x", "type": "quantitative",
                  "axis": {"orient": "top", "title": null, "labels": false, "grid": false, "values": [400, 600, 800, 1000], "minExtent": 0, "maxExtent": 0}},
            "y": {"field": "y", "type": "quantitative",
                  "axis": {"orient": "right", "title": null, "labels": false, "grid": false, "values": [-200, 0, 200, 400, 600, 800, 1000, 1200, 1400], "minExtent": 0, "maxExtent": 0}}
          }
        }
      ],
      "resolve": {"axis": {"x": "independent", "y": "independent"}}
    },
    {
      "title": "sr_2026_222_TGF__y03_r_rad_downward",
      "width": 567,
      "height": 399,
      "data": {"name": "down"},
      "layer": [
        {
          "mark": {"type": "line", "strokeWidth": 1, "clip": true},
          "encoding": {
            "x": {"field": "x", "type": "quantitative",
                  "scale": {"domain": [350, 1050], "nice": false, "zero": false},
                  "axis": {"title": "nm", "values": [400, 600, 800, 1000], "labelPadding": 14, "titlePadding": 5}},
            "y": {"field": "y", "type": "quantitative",
                  "scale": {"domain": [0, 1600], "nice": false},
                  "axis": {"title": null, "values": [0, 200, 400, 600, 800, 1000, 1200, 1400, 1600], "minExtent": 47, "maxExtent": 47}},
            "color": {"field": "s", "type": "nominal",
                      "scale": {"domain": ["08:02:00", "10:02:00", "12:02:00", "14:02:00", "16:02:00", "untitled"],
                                "range": ["#9400d3", "#009e73", "#56b4e9", "#e69f00", "#f0e442", "#0072b2"]},
                      "legend": {"title": null, "values": ["08:02:00", "10:02:00", "12:02:00", "14:02:00", "16:02:00"]}}
          }
        },
        {
          "mark": {"type": "rule", "strokeWidth": 0},
          "encoding": {
            "x": {"field": "x", "type": "quantitative",
                  "axis": {"orient": "top", "title": null, "labels": false, "grid": false, "values": [400, 600, 800, 1000], "minExtent": 0, "maxExtent": 0}},
            "y": {"field": "y", "type": "quantitative",
                  "axis": {"orient": "right", "title": null, "labels": false, "grid": false, "values": [0, 200, 400, 600, 800, 1000, 1200, 1400, 1600], "minExtent": 0, "maxExtent": 0}}
          }
        }
      ],
      "resolve": {"axis": {"x": "independent", "y": "independent"}}
    }
  ]
}
